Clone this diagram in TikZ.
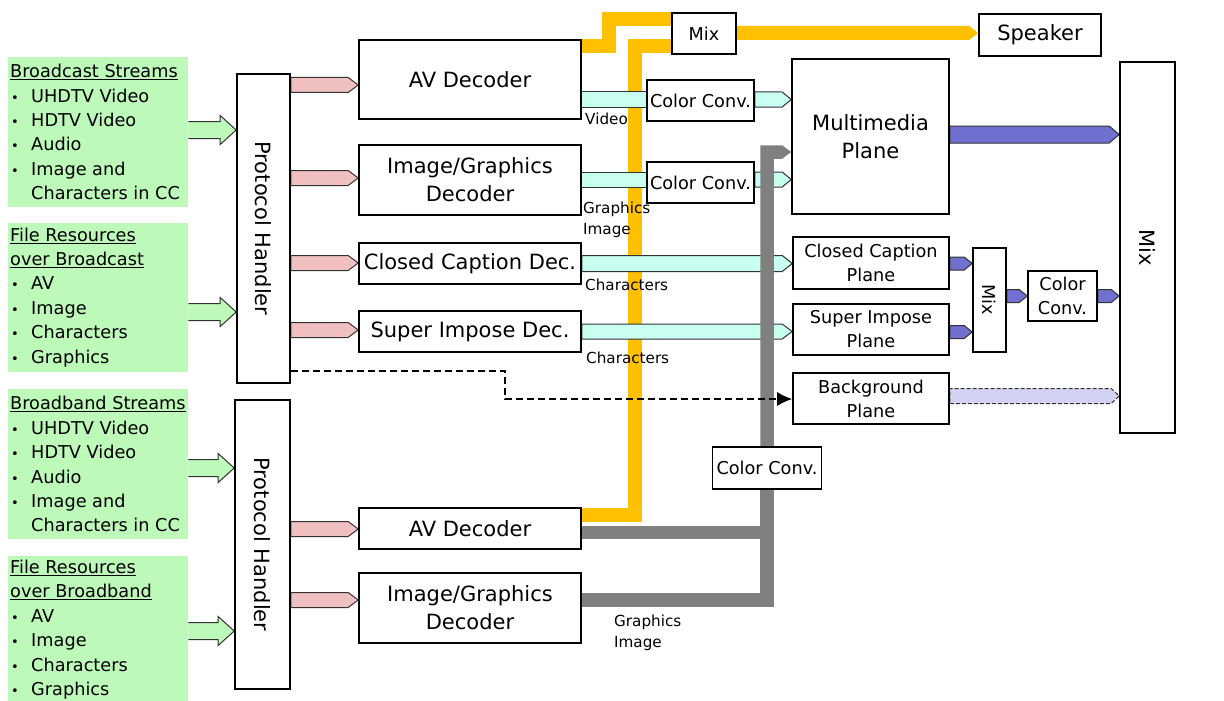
\documentclass[tikz,border=0pt]{standalone}
\usepackage{fontspec}
\setmainfont{DejaVu Sans}
\usetikzlibrary{calc,backgrounds,arrows.meta}
\definecolor{gfill}{RGB}{189,249,184}
\definecolor{pinkf}{RGB}{240,192,192}
\definecolor{cyanf}{RGB}{200,255,240}
\definecolor{bluef}{RGB}{112,112,208}
\definecolor{lavf}{RGB}{210,210,242}
\definecolor{yel}{RGB}{255,192,0}
\definecolor{grayl}{RGB}{128,128,128}
\definecolor{edge}{RGB}{50,50,50}
% pentagon connector: style, from, to, y(px), half width, head length
\newcommand\penta[6]{%
  \path[#1] let \p1=(#2), \p2=(#3) in
    (\x1,{-#4pt-#5pt}) -- ({\x2-#6pt},{-#4pt-#5pt}) -- (\x2,{-#4pt})
    -- ({\x2-#6pt},{-#4pt+#5pt}) -- (\x1,{-#4pt+#5pt}) -- cycle;}
% green block arrow: from, to, y
\newcommand\garr[3]{%
  \path[garrow] let \p1=(#1), \p2=(#2) in
    (\x1,{-#3pt-8.5pt}) -- ({\x2-16pt},{-#3pt-8.5pt}) -- ({\x2-16pt},{-#3pt-14.5pt})
    -- (\x2,{-#3pt}) -- ({\x2-16pt},{-#3pt+14.5pt}) -- ({\x2-16pt},{-#3pt+8.5pt})
    -- (\x1,{-#3pt+8.5pt});}
\newcommand\bitem{\makebox[21pt][l]{\hspace{1pt}{\fontsize{13}{13}\selectfont •}}}
\begin{document}
\begin{tikzpicture}[x=1pt,y=-1pt,
  box/.style={draw, line width=1.6pt, fill=white, inner sep=0pt, align=center},
  bigf/.style={font=\fontsize{21}{28}\selectfont},
  smf/.style={font=\fontsize{17.7}{24}\selectfont},
  lbl/.style={font=\fontsize{15.2}{21}\selectfont, align=left, inner sep=0pt},
  gbox/.style={fill=gfill, inner sep=0pt, minimum width=180pt},
  gtext/.style={font=\fontsize{17.7}{24.4}\selectfont, align=left, inner sep=0pt},
  garrow/.style={fill=gfill, draw=edge, line width=1pt},
  pinka/.style={fill=pinkf, draw=edge, line width=1pt},
  cyana/.style={fill=cyanf, draw=edge, line width=1pt},
  bluea/.style={fill=bluef, draw=edge, line width=1pt},
  lava/.style={fill=lavf, draw=edge, line width=1pt, dash pattern=on 4pt off 2pt},
  yela/.style={fill=yel},
  yelline/.style={draw=yel, line width=14pt},
  grayline/.style={draw=grayl, line width=13.5pt},
]
\useasboundingbox (0,0) rectangle (1224,701);

% ---------- green source boxes ----------
\node[gbox, minimum height=150pt, anchor=north west] (g1) at (8,57) {};
\node[gtext, anchor=west] at ([xshift=2pt]g1.west) {\underline{Broadcast Streams}\\
  \bitem UHDTV Video\\ \bitem HDTV Video\\ \bitem Audio\\ \bitem Image and\\
  \hspace*{21pt}Characters in CC};
\node[gbox, minimum height=149pt, anchor=north west] (g2) at (8,222.5) {};
\node[gtext, anchor=west] at ([xshift=2pt]g2.west) {\underline{File Resources}\\
  \underline{over Broadcast}\\ \bitem AV\\ \bitem Image\\ \bitem Characters\\ \bitem Graphics};
\node[gbox, minimum height=150pt, anchor=north west] (g3) at (8,389) {};
\node[gtext, anchor=west] at ([xshift=2pt]g3.west) {\underline{Broadband Streams}\\
  \bitem UHDTV Video\\ \bitem HDTV Video\\ \bitem Audio\\ \bitem Image and\\
  \hspace*{21pt}Characters in CC};
\node[gbox, minimum height=147pt, anchor=north west] (g4) at (8,556) {};
\node[gtext, anchor=west] at ([xshift=2pt]g4.west) {\underline{File Resources}\\
  \underline{over Broadband}\\ \bitem AV\\ \bitem Image\\ \bitem Characters\\ \bitem Graphics};

% ---------- protocol handlers ----------
\node[box, minimum width=53pt, minimum height=309pt] (ph1) at (263.5,228.5) {};
\node[bigf, rotate=-90] at (ph1) {Protocol Handler};
\node[box, minimum width=55pt, minimum height=289pt] (ph2) at (262.5,544.5) {};
\node[bigf, rotate=-90] at (ph2) {Protocol Handler};

% ---------- decoders ----------
\node[box, bigf, minimum width=222pt, minimum height=79pt] (av1) at (470,79.5) {AV Decoder};
\node[box, bigf, minimum width=222pt, minimum height=70pt] (ig1) at (470,180) {Image/Graphics\\Decoder};
\node[box, bigf, minimum width=222pt, minimum height=41pt] (cc) at (470,263.5) {Closed Caption Dec.};
\node[box, bigf, minimum width=222pt, minimum height=41pt] (si) at (470,331.5) {Super Impose Dec.};
\node[box, bigf, minimum width=222pt, minimum height=41pt] (av2) at (470,528.5) {AV Decoder};
\node[box, bigf, minimum width=222pt, minimum height=70pt] (ig2) at (470,608) {Image/Graphics\\Decoder};

% ---------- right side ----------
\node[box, smf, minimum width=64pt, minimum height=41pt] (mix1) at (704,33.5) {Mix};
\node[box, bigf, minimum width=122pt, minimum height=42pt] (spk) at (1040,35) {Speaker};
\node[box, smf, minimum width=107pt, minimum height=41pt] (cc1) at (700.5,100.5) {Color Conv.};
\node[box, smf, minimum width=107pt, minimum height=41pt] (cc2) at (700.5,182.5) {Color Conv.};
\node[box, bigf, minimum width=157pt, minimum height=155pt] (mp) at (870.5,136.5) {Multimedia\\Plane};
\node[box, smf, minimum width=156pt, minimum height=52pt] (ccp) at (871,263) {Closed Caption\\Plane};
\node[box, smf, minimum width=156pt, minimum height=51pt] (sip) at (871,329.5) {Super Impose\\Plane};
\node[box, smf, minimum width=156pt, minimum height=51pt] (bgp) at (871,398.5) {Background\\Plane};
\node[box, minimum width=33pt, minimum height=104pt] (mix2) at (989.5,300) {};
\node[smf, rotate=-90] at (mix2) {Mix};
\node[box, smf, minimum width=69pt, minimum height=50pt] (cc4) at (1062.5,296) {Color\\Conv.};
\node[box, minimum width=55pt, minimum height=371pt] (mix3) at (1147.5,247.5) {};
\node[bigf, rotate=-90] at (mix3) {Mix};
\node[box, smf, minimum width=109pt, minimum height=42pt] (cc3) at (767,468) {Color Conv.};

% ---------- connectors ----------
\begin{pgfonlayer}{background}
  % yellow audio paths
  \draw[yelline] (av1.east |- 0,46) -- (609,46) -- (609,19) -- (mix1.west |- 0,19);
  \draw[yelline] (av2.east |- 0,515) -- (634.5,515) -- (634.5,46) -- (mix1.west |- 0,46);
  \penta{yela}{mix1.east}{spk.west}{33}{7}{9}
  % cyan
  \penta{cyana}{av1.east}{cc1.west}{99.5}{7.5}{0}
  \penta{cyana}{cc1.east}{mp.west}{99.5}{7.5}{9}
  \penta{cyana}{ig1.east}{cc2.west}{179.5}{7.5}{0}
  \penta{cyana}{cc2.east}{mp.west}{179.5}{7.5}{9}
  \penta{cyana}{cc.east}{ccp.west}{263.5}{8}{10}
  \penta{cyana}{si.east}{sip.west}{331.5}{7.5}{10}
  % gray
  \draw[grayline] (av2.east |- 0,532.5) -- (cc3.south |- 0,532.5);
  \draw[grayline] (ig2.east |- 0,600) -| (cc3.south);
  \path[fill=grayl] let \p1=(cc3.north), \p2=(mp.west) in
    ({\x1-6.75pt},\y1) -- ({\x1-6.75pt},-145.25pt) -- ({\x2-9pt},-145.25pt) -- (\x2,-152pt)
    -- ({\x2-9pt},-158.75pt) -- ({\x1+6.75pt},-158.75pt) -- ({\x1+6.75pt},\y1) -- cycle;
  % pink
  \penta{pinka}{ph1.east}{av1.west}{85}{7.5}{10}
  \penta{pinka}{ph1.east}{ig1.west}{178}{7.5}{10}
  \penta{pinka}{ph1.east}{cc.west}{263}{7.5}{10}
  \penta{pinka}{ph1.east}{si.west}{330}{7.5}{10}
  \penta{pinka}{ph2.east}{av2.west}{529}{7.5}{10}
  \penta{pinka}{ph2.east}{ig2.west}{600}{7.5}{10}
  % blue
  \penta{bluea}{mp.east}{mix3.west}{134.5}{8.5}{10}
  \penta{bluea}{ccp.east}{mix2.west}{263.5}{6.5}{8}
  \penta{bluea}{sip.east}{mix2.west}{332}{6.5}{8}
  \penta{bluea}{mix2.east}{cc4.west}{296}{6.5}{8}
  \penta{bluea}{cc4.east}{mix3.west}{296}{6.5}{8}
  \penta{lava}{bgp.east}{mix3.west}{396}{7.5}{8}
  % green inputs
  \garr{g1.east}{ph1.west}{130}
  \garr{g2.east}{ph1.west}{312}
  \garr{g3.east}{ph2.west}{468}
  \garr{g4.east}{ph2.west}{631}
\end{pgfonlayer}
% dashed control line
\draw[line width=1.4pt, dash pattern=on 7pt off 4pt, -{Latex[length=15pt,width=14pt]}]
  (ph1.east |- 0,371) -- (505,371) -- (505,399) -- (bgp.west |- 0,399);

% ---------- labels ----------
\node[lbl, anchor=west] at (585,119) {Video};
\node[lbl, anchor=west] at (583,219.5) {Graphics\\Image};
\node[lbl, anchor=west] at (585,285) {Characters};
\node[lbl, anchor=west] at (586,358) {Characters};
\node[lbl, anchor=west] at (614,632.5) {Graphics\\Image};
\end{tikzpicture}
\end{document}
